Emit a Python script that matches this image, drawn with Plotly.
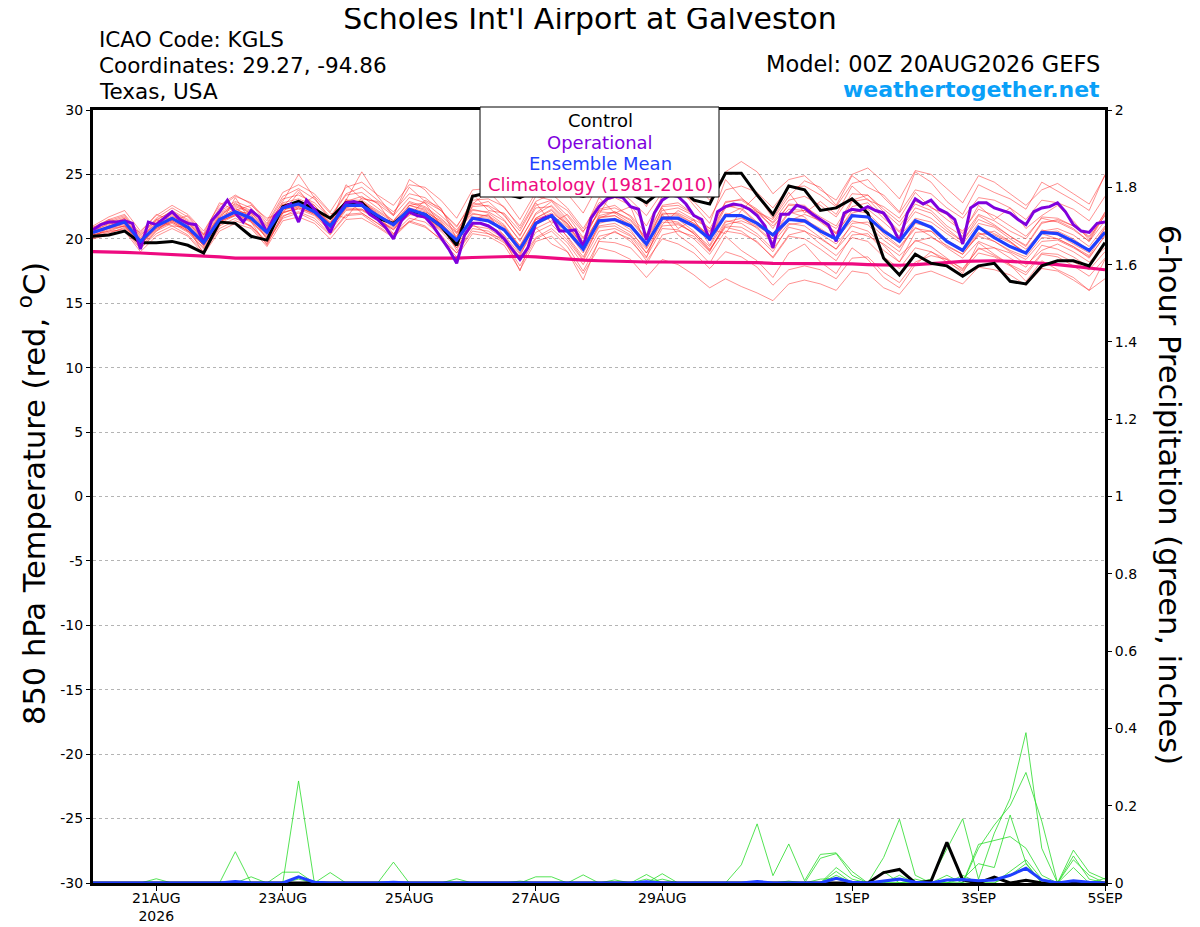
import pandas as pd
import plotly.graph_objects as go

# ---------------- data ----------------
times6 = pd.date_range("2026-08-20 00:00", periods=65, freq="6h")
times3 = pd.date_range("2026-08-20 00:00", periods=129, freq="3h")

tick_vals = ["2026-08-21", "2026-08-23", "2026-08-25", "2026-08-27",
             "2026-08-29", "2026-09-01", "2026-09-03", "2026-09-05"]
tick_text = ["21AUG<br>2026", "23AUG", "25AUG", "27AUG", "29AUG", "1SEP", "3SEP", "5SEP"]
temp_ticks = [-30, -25, -20, -15, -10, -5, 0, 5, 10, 15, 20, 25, 30]
temp_tick_text = ["-30", "-25", "-20", "-15", "-10", "-5", "0", "5", "10", "15", "20", "25", "30"]

control_t = [20.2, 20.3, 20.6, 19.7, 19.7, 19.8, 19.5, 18.9, 21.3, 21.2, 20.2, 19.9,
             22.5, 22.9, 22.3, 21.6, 22.8, 22.8, 21.6, 21.2, 22.2, 21.9, 21.0, 19.5,
             23.3, 23.6, 23.5, 23.2, 23.8, 24.0, 23.6, 23.3, 23.7, 24.0, 23.5, 22.8,
             23.8, 24.1, 23.0, 22.7, 25.1, 25.1, 23.4, 21.9, 24.1, 23.8, 22.2, 22.4,
             23.1, 22.0, 18.5, 17.2, 18.8, 18.1, 17.9, 17.1, 17.9, 18.1, 16.7, 16.5,
             17.9, 18.3, 18.3, 17.9, 19.7]

mean_t = [20.5, 20.9, 21.3, 19.8, 21.0, 21.6, 20.9, 19.7, 21.5, 22.1, 21.6, 20.5,
          22.4, 22.7, 22.1, 21.0, 22.6, 22.6, 21.8, 21.1, 22.3, 21.9, 21.0, 19.9,
          21.6, 21.4, 20.7, 19.2, 21.2, 21.8, 20.6, 19.2, 21.4, 21.5, 21.0, 19.6,
          21.6, 21.6, 21.0, 20.0, 21.8, 21.8, 21.2, 20.3, 21.5, 21.4, 20.6, 20.0,
          21.8, 21.7, 20.6, 19.8, 21.4, 20.9, 19.8, 19.1, 20.9, 20.1, 19.4, 18.9,
          20.5, 20.4, 19.8, 19.1, 20.5]

oper_t = [20.7, 21.1, 21.3, 21.3, 21.4, 21.2, 19.2, 21.3, 21.1, 21.6,
          22.1, 21.5, 21.2, 21.1, 19.7, 21.4, 22.1, 23.0, 22.0, 21.3,
          22.2, 21.7, 20.5, 21.8, 22.4, 22.7, 21.3, 23.0, 22.3, 21.5,
          20.5, 21.9, 22.8,
          22.9, 22.7, 21.9, 21.5, 20.9, 20.0, 21.4, 22.1, 21.8, 21.7,
          21.0, 20.1, 19.2, 18.1, 20.3, 21.2, 21.2, 21.0, 20.6, 20.0,
          19.2, 18.4, 19.3, 21.2, 21.6, 21.8, 20.6, 20.6, 20.7, 19.4,
          21.6, 22.5,
          23.1, 23.3, 23.2, 22.5, 22.3, 19.9, 22.0, 23.0, 23.4, 23.3,
          22.7, 21.8, 21.5, 19.9, 22.1, 22.5, 22.7, 22.6, 22.3, 21.8,
          21.0, 19.3, 21.9,
          21.9, 22.6, 22.4, 21.9, 21.5, 21.1, 19.8, 22.0, 22.3, 22.2,
          22.5, 22.2, 22.0, 21.1, 19.8, 22.0, 23.1, 22.7, 23.0, 22.3,
          22.0, 21.5, 19.6, 22.4, 22.8, 22.8, 22.4, 22.2, 22.0, 21.5,
          21.1, 22.1, 22.4, 22.5, 22.8, 22.1, 21.1, 20.6, 20.5, 21.2,
          21.3]

clim_t = [19.0, 19.0, 18.95, 18.9, 18.85, 18.8, 18.75, 18.7, 18.6, 18.5, 18.5, 18.45,
          18.45, 18.45, 18.45, 18.45, 18.45, 18.45, 18.5, 18.5, 18.5, 18.5, 18.5, 18.5,
          18.55, 18.6, 18.65, 18.65, 18.6, 18.5, 18.4, 18.35, 18.3, 18.25, 18.25, 18.2,
          18.2, 18.2, 18.2, 18.2, 18.15, 18.15, 18.15, 18.1, 18.1, 18.1, 18.1, 18.1,
          18.05, 18.0, 17.95, 17.95, 18.0, 18.05, 18.15, 18.25, 18.3, 18.3, 18.25, 18.2,
          18.1, 18.0, 17.85, 17.7, 17.6]

mem01 = [20.8,21.4,21.8,20.2, 21.6,22.4,21.7,20.3, 22.4,23.3,22.8,21.4, 23.6,24.2,23.5,22.1, 24.0,24.4,23.4,22.6, 24.2,24.0,23.0,21.6, 23.8,23.9,23.2,21.5, 23.6,24.4,23.5,22.0, 24.3,24.6,24.2,22.5, 24.8,25.0,24.3,23.0, 25.2,26.0,25.2,23.5, 24.6,24.9,23.8,23.0, 25.0,25.5,24.4,23.1, 25.3,25.0,23.9,22.8, 24.9,24.4,23.5,22.6, 23.8,24.3,23.5,22.7, 24.9]
mem02 = [20.2,20.5,20.8,19.3, 20.4,21.0,20.3,19.0, 20.8,21.4,21.0,19.7, 21.6,22.0,21.4,20.3, 21.8,21.9,21.0,20.2, 21.4,21.0,19.9,18.6, 20.4,20.2,19.5,17.6, 19.8,20.2,19.0,17.3, 19.3,19.0,18.4,17.0, 18.4,18.0,17.2,16.2, 16.9,16.3,15.8,15.2, 16.5,16.8,16.5,16.0, 17.5,17.3,16.2,15.7, 17.2,17.5,17.0,16.5, 17.8,17.6,17.2,16.4, 17.7,17.5,16.8,16.0, 16.9]
mem03 = [20.6,21.2,21.6,20.1, 21.2,21.9,21.2,20.0, 21.9,22.6,22.1,20.9, 22.9,25.0,23.2,21.5, 23.0,25.2,23.3,21.8, 24.6,23.8,22.3,20.5, 22.8,22.5,21.5,19.8, 22.0,22.9,21.5,19.7, 22.3,22.6,21.7,20.0, 22.6,22.8,21.9,20.5, 22.9,23.0,22.2,20.8, 22.7,22.6,21.5,20.4, 22.9,23.1,21.8,20.6, 22.4,22.0,20.8,19.8, 21.8,21.1,20.2,19.5, 21.3,21.4,20.8,19.8, 21.9]
mem04 = [20.3,20.7,21.0,19.5, 20.8,21.3,20.6,19.3, 21.2,21.8,21.3,20.1, 22.1,22.3,21.8,20.6, 22.2,22.3,21.5,20.7, 21.9,21.6,20.6,19.3, 21.0,20.8,20.0,18.4, 20.5,21.1,19.9,18.3, 20.6,20.8,20.2,18.6, 20.8,20.7,20.0,18.8, 20.6,20.4,19.8,18.5, 20.2,20.0,19.2,18.3, 20.3,20.4,19.1,18.2, 19.9,19.4,18.5,17.6, 19.3,18.7,18.0,17.4, 18.9,18.8,18.2,17.6, 19.0]
mem05 = [20.9,21.5,21.9,20.4, 21.5,22.1,21.4,20.2, 22.0,22.7,22.2,21.0, 22.8,23.1,22.6,21.3, 23.0,23.0,22.2,21.4, 22.8,22.4,21.5,20.4, 22.2,22.1,21.4,19.9, 21.9,22.6,21.4,20.0, 22.2,22.4,21.8,20.4, 22.5,22.6,21.9,20.8, 22.8,23.1,22.3,21.2, 22.6,22.5,21.7,21.0, 23.0,23.4,22.1,21.0, 22.7,22.2,21.0,20.2, 21.9,21.4,20.6,20.0, 21.7,21.6,21.0,20.2, 22.0]
mem06 = [20.0,20.3,20.6,19.0, 20.2,20.8,20.2,18.8, 20.6,21.2,20.8,19.4, 21.4,21.7,21.2,20.0, 21.5,21.6,20.9,20.1, 21.3,20.9,20.0,18.9, 20.6,20.4,19.7,18.3, 20.1,20.8,19.7,18.0, 20.2,20.5,20.0,18.3, 20.0,19.6,18.9,17.7, 19.0,18.6,17.8,16.4, 17.6,17.9,17.6,16.9, 18.5,18.6,17.4,16.6, 18.2,18.7,18.4,17.7, 19.2,19.3,18.9,18.0, 19.1,19.6,19.0,18.2, 19.3]
mem07 = [21.0,21.7,22.2,20.6, 21.8,22.6,21.9,20.6, 22.6,23.4,22.7,21.2, 23.3,23.9,23.1,21.7, 23.5,24.0,23.0,22.1, 23.5,23.2,22.2,20.9, 23.0,23.1,22.5,20.8, 22.9,23.5,22.4,20.8, 22.8,23.2,22.6,21.0, 23.3,23.6,22.9,21.6, 23.8,24.1,23.6,22.4, 24.0,24.1,23.4,22.5, 24.3,24.6,23.2,22.0, 23.8,23.5,22.4,21.6, 23.2,23.0,22.4,21.5, 23.0,22.8,22.3,21.4, 23.3]
mem08 = [20.4,20.8,21.2,19.7, 21.0,21.5,20.8,19.6, 21.4,22.0,21.5,20.3, 22.2,22.6,22.0,20.9, 22.5,22.5,21.7,20.9, 22.1,21.7,20.8,19.5, 21.3,21.1,20.3,18.8, 20.8,21.4,20.2,18.6, 20.9,21.0,20.3,18.9, 21.0,21.1,20.5,19.4, 21.4,21.2,20.4,19.2, 20.9,20.6,19.6,18.7, 20.1,19.8,18.6,17.7, 19.3,19.0,18.2,17.5, 18.9,18.6,17.9,17.2, 18.8,18.6,17.9,17.1, 18.5]
mem09 = [20.7,21.1,21.5,20.0, 21.3,22.0,21.3,20.1, 21.7,22.3,21.8,20.7, 22.6,22.9,22.3,21.2, 22.8,22.9,22.1,21.3, 22.6,22.2,21.2,20.1, 22.5,22.6,21.9,20.2, 22.6,23.0,21.8,20.1, 22.1,22.0,21.2,19.6, 21.5,21.3,20.4,19.1, 20.9,20.6,19.7,18.6, 20.3,20.6,20.0,19.2, 21.2,21.3,20.2,19.3, 20.8,20.6,19.8,19.0, 20.2,19.8,19.0,18.4, 19.8,19.9,19.3,18.6, 20.2]
mem10 = [20.1,20.4,20.9,19.4, 20.6,21.2,20.5,19.2, 21.0,21.6,21.0,19.8, 21.8,22.1,21.6,20.4, 21.9,22.0,21.2,20.4, 21.6,21.3,20.3,18.9, 20.8,20.6,19.8,17.9, 20.0,20.6,19.4,17.5, 19.8,19.7,19.3,18.0, 20.3,20.6,20.2,19.0, 21.3,21.6,21.0,20.2, 22.0,22.2,21.5,20.8, 22.5,22.8,21.6,20.5, 22.1,21.6,20.6,19.8, 21.5,21.0,20.2,19.4, 21.2,21.5,21.0,20.1, 21.8]
mem11 = [20.6,21.0,21.4,19.9, 21.1,21.8,21.1,19.9, 21.8,22.5,22.0,20.8, 22.6,22.9,22.3,21.1, 22.9,23.3,22.4,21.4, 22.9,22.5,21.6,20.5, 22.0,21.7,20.9,19.5, 21.6,22.2,21.0,19.4, 21.8,22.1,21.5,20.0, 22.2,22.4,21.8,20.6, 22.5,22.6,22.0,21.0, 22.3,22.2,21.3,20.4, 22.2,22.0,20.8,19.8, 21.4,20.9,19.9,19.0, 20.5,19.8,19.1,18.6, 20.1,20.0,19.4,18.5, 20.3]
mem12 = [20.3,20.6,21.0,19.6, 20.9,21.4,20.7,19.5, 21.3,21.9,21.4,20.2, 22.0,22.4,21.9,20.8, 22.3,22.2,21.5,20.8, 22.0,21.6,20.7,19.7, 21.5,21.4,20.6,19.1, 21.3,21.9,20.9,19.2, 21.6,21.8,21.1,19.6, 21.6,21.5,20.6,19.2, 21.0,20.9,20.2,19.0, 21.1,21.3,20.7,19.9, 21.9,21.6,20.4,19.4, 20.9,20.2,19.3,18.5, 19.8,19.3,18.5,17.8, 19.5,19.2,18.6,17.8, 19.7]
mem13 = [20.8,21.3,21.7,20.3, 21.4,22.2,21.5,20.3, 22.1,22.9,22.4,21.1, 23.1,23.4,22.8,21.6, 23.4,23.6,22.7,21.8, 23.2,22.8,21.8,20.7, 22.3,22.0,21.1,19.4, 21.6,22.3,21.1,19.5, 21.7,21.8,21.0,19.3, 21.9,22.0,21.4,20.1, 22.4,22.7,22.1,21.3, 23.0,23.3,22.6,21.7, 23.5,23.4,22.3,21.3, 22.9,22.5,21.5,20.6, 22.3,21.8,21.0,20.2, 21.6,21.3,20.7,19.8, 21.4]
mem14 = [20.5,20.9,21.1,19.6, 20.7,21.3,20.6,19.5, 21.3,21.9,21.4,20.1, 22.3,22.5,21.9,20.8, 22.4,22.3,21.5,20.7, 22.1,21.7,20.8,19.6, 21.7,21.6,20.7,18.9, 21.1,21.7,20.5,18.9, 21.0,21.2,20.5,19.2, 21.3,21.2,20.4,19.1, 21.1,21.4,20.9,19.8, 21.6,21.5,20.8,20.0, 21.4,21.1,19.9,19.0, 21.2,20.9,19.9,19.2, 20.9,20.4,19.8,18.8, 20.4,20.0,19.4,18.7, 20.6]
mem15 = [20.9,21.2,21.3,19.9, 21.5,21.0,20.9,18.8, 21.0,23.2,21.3,19.5, 22.0,22.5,23.3,22.0, 21.6,23.2,22.8,21.0, 21.8,23.0,22.4,20.0, 23.5,22.2,22.0,20.6, 22.8,21.2,21.9,20.5, 23.2,22.0,22.5,19.4, 22.4,20.8,21.5,20.8, 20.4,22.2,23.4,21.6, 23.6,22.0,22.9,21.9, 24.1,23.0,22.5,21.6, 23.6,22.4,21.9,20.4, 22.6,21.5,22.4,20.8, 21.8,22.6,21.4,19.9, 22.1]
mem16 = [20.1,20.9,21.6,19.4, 21.2,22.0,20.6,19.8, 21.7,22.8,21.9,19.9, 22.5,23.8,22.3,20.4, 23.1,22.0,21.2,20.3, 22.6,22.8,21.0,19.3, 21.1,20.4,20.0,17.5, 20.9,19.6,19.0,16.8, 19.9,20.6,19.8,18.5, 21.9,20.3,19.4,18.1, 20.2,19.1,18.3,17.0, 18.9,19.6,18.2,17.3, 19.3,18.4,17.0,16.2, 18.0,19.0,18.4,17.3, 19.7,18.8,18.0,16.7, 18.3,17.6,17.0,16.0, 18.4]
mem17 = [20.7,21.5,21.2,20.5, 21.9,21.4,21.8,20.4, 22.8,22.2,22.6,21.6, 22.0,23.6,22.6,21.1, 24.2,23.1,22.9,21.9, 24.0,22.9,22.2,21.0, 22.7,23.7,22.4,21.0, 23.3,23.0,22.2,20.6, 21.9,23.9,23.0,21.8, 23.6,24.1,22.6,21.2, 24.6,23.2,22.1,21.5, 23.3,24.5,24.0,22.6, 24.9,24.0,23.4,22.1, 25.2,24.4,22.9,21.9, 24.2,23.6,23.1,22.3, 24.4,23.7,23.0,22.2, 25.0]
mem18 = [20.3,20.6,20.7,19.2, 20.6,21.6,21.1,19.4, 21.4,21.8,20.9,19.6, 21.7,22.4,22.0,20.7, 22.4,22.9,21.9,20.4, 21.3,22.0,21.2,19.1, 21.5,21.9,20.2,18.6, 21.5,21.8,20.1,18.4, 21.2,21.5,20.7,18.9, 21.1,22.2,21.5,19.5, 21.8,22.4,21.3,20.4, 22.1,21.7,20.4,19.6, 21.0,20.6,19.5,18.2, 20.5,20.6,19.4,18.8, 20.3,20.6,19.8,18.9, 20.7,20.3,19.6,18.9, 20.9]
mem19 = [20.4,21.0,21.4,19.6, 21.0,21.7,21.3,19.9, 21.6,22.1,22.0,20.6, 22.7,22.7,22.1,20.9, 22.7,22.8,21.9,21.2, 22.4,22.1,21.4,20.2, 22.6,22.9,21.8,20.3, 22.4,22.5,21.2,19.8, 21.6,22.1,21.4,19.9, 22.0,21.9,21.2,20.2, 22.6,22.3,21.2,20.0, 21.4,21.9,21.4,20.5, 22.0,22.3,21.3,20.2, 21.6,21.3,20.4,19.6, 21.2,20.9,20.0,19.2, 20.6,20.8,20.3,19.4, 21.0]
mem20 = [20.6,20.8,21.0,19.8, 20.8,21.4,20.8,19.6, 21.4,22.4,21.6,20.4, 22.4,23.0,22.4,21.2, 22.6,22.9,22.0,21.0, 22.6,22.3,21.3,19.8, 21.9,21.8,21.0,19.3, 21.5,22.0,21.2,19.4, 21.4,21.6,21.0,19.6, 21.7,21.8,21.2,20.3, 22.0,21.7,20.8,19.7, 21.2,21.0,20.1,19.2, 20.6,20.2,19.6,18.7, 19.8,20.1,19.5,18.8, 20.4,20.3,19.7,18.9, 20.5,20.6,20.0,19.1, 20.8]
members_t = [mem01, mem02, mem03, mem04, mem05, mem06, mem07, mem08, mem09, mem10,
             mem11, mem12, mem13, mem14, mem15, mem16, mem17, mem18, mem19, mem20]

# 6-hour precipitation (inches)
pcp_a = [0,0,0,0,0,0,0,0,0,0.081, 0,0,0,0.264,0,0,0,0,0,0, 0,0,0,0,0,0,0,0,0,0,
         0,0,0,0,0,0,0,0,0,0, 0,0.047,0.153,0.019,0.101,0.006,0.074,0.078,0.03,0,
         0,0,0,0,0,0,0,0,0.02,0.05, 0,0,0,0,0]
pcp_b = [0,0,0,0,0.011,0,0,0,0,0, 0.016,0,0.028,0.028,0,0.027,0,0,0,0, 0,0,0,0,0,0,0,0,0,0,
         0,0,0,0,0,0.022,0,0,0,0, 0,0,0,0,0,0,0.064,0.076,0.02,0,
         0.066,0.165,0.02,0,0,0,0.09,0.15,0.2,0.286, 0.16,0,0.06,0.02,0]
pcp_c = [0,0,0,0,0,0,0,0,0,0, 0,0,0,0,0,0,0,0,0,0.054, 0,0,0,0.011,0,0,0,0,0.016,0.016,
         0,0.021,0,0,0,0,0.024,0,0,0, 0,0,0,0,0,0,0,0.03,0,0,
         0,0,0,0.01,0.09,0.166,0.01,0.129,0.219,0.389, 0.09,0,0.085,0.028,0.01]
pcp_d = [0,0,0,0,0,0,0,0,0,0, 0,0,0,0.01,0,0,0,0,0,0, 0,0,0,0,0,0,0,0,0,0,
         0,0,0,0,0,0.01,0,0,0,0, 0,0,0,0,0,0,0,0.02,0,0,
         0.03,0,0,0,0,0.01,0.05,0.04,0.176,0.052, 0,0,0.07,0.01,0]
pcp_e = [0,0,0,0,0,0,0,0,0,0, 0,0,0,0,0.005,0,0,0,0,0, 0,0,0,0,0,0,0,0,0,0,
         0,0,0,0,0,0,0.01,0,0,0, 0,0,0,0,0.005,0,0,0.04,0.01,0,
         0,0,0.01,0,0.02,0,0.1,0.11,0.12,0.09, 0.02,0,0.04,0,0.012]
pcp_f = [0,0,0,0,0,0,0,0,0,0, 0,0,0,0,0,0,0,0,0,0, 0,0,0,0,0,0,0,0.005,0,0,
         0,0,0,0.008,0,0,0,0,0,0, 0,0,0,0,0,0,0.01,0.012,0,0,
         0,0.02,0,0,0,0.02,0,0,0.03,0.06, 0.01,0,0,0,0]
members_p = [pcp_a, pcp_b, pcp_c, pcp_d, pcp_e, pcp_f]

control_p = [0,0,0,0,0,0,0,0,0,0, 0,0,0,0,0,0,0,0,0,0, 0,0,0,0,0,0,0,0,0,0,
             0,0,0,0,0,0,0,0,0,0, 0,0,0,0,0,0,0,0,0,0,
             0.027,0.035,0,0.005,0.105,0.008,0,0.015,0,0.007, 0,0,0,0,0]
mean_p = [0,0,0,0,0,0,0,0,0,0.004, 0,0,0,0.016,0.002,0,0,0,0,0.002, 0,0,0,0,0,0,0,0,0,0,
          0,0,0,0,0,0.003,0,0,0,0, 0,0,0.004,0,0,0,0,0.012,0.002,0,
          0.005,0.01,0.002,0,0.008,0.009,0.006,0.008,0.02,0.038, 0.008,0,0.006,0.002,0]

# ---------------- figure ----------------
FONT = "DejaVu Sans"
OFF = 8                      # page body margin of the browser
L, R, T, B = 93, 1105, 110, 883   # plot box in page pixels
W, H = 1200 - OFF, 927 - OFF


def px(x):
    return (x - L) / (R - L)


def py(y):
    return (B - y) / (B - T)


fig = go.Figure()

for m in members_t:
    fig.add_trace(go.Scatter(x=times6, y=m, mode="lines", yaxis="y",
                             line=dict(color="rgba(255,30,30,0.62)", width=0.8),
                             hoverinfo="skip"))

fig.add_trace(go.Scatter(x=times6, y=clim_t, mode="lines",
                         line=dict(color="#ee0a80", width=3.2)))
fig.add_trace(go.Scatter(x=times6, y=control_t, mode="lines",
                         line=dict(color="black", width=3)))
fig.add_trace(go.Scatter(x=times3, y=oper_t, mode="lines",
                         line=dict(color="#8000dd", width=3)))
fig.add_trace(go.Scatter(x=times6, y=mean_t, mode="lines",
                         line=dict(color="#1f3fff", width=3.2)))

for p in members_p:
    fig.add_trace(go.Scatter(x=times6, y=p, mode="lines", yaxis="y2",
                             line=dict(color="rgb(40,220,40)", width=0.8)))
fig.add_trace(go.Scatter(x=times6, y=control_p, mode="lines", yaxis="y2",
                         line=dict(color="black", width=3)))
fig.add_trace(go.Scatter(x=times6, y=mean_p, mode="lines", yaxis="y2",
                         line=dict(color="#1f3fff", width=3)))

axis_font = dict(family=FONT, size=14, color="black")

fig.update_layout(
    width=W, height=H,
    margin=dict(l=L - OFF, r=W - (R - OFF), t=T - OFF, b=H - (B - OFF), pad=0),
    paper_bgcolor="white", plot_bgcolor="white",
    showlegend=False,
    font=dict(family=FONT, color="black"),
    title=dict(text="Scholes Int'l Airport at Galveston", x=(590 - OFF) / W, xanchor="center",
               y=1.0, yanchor="top", xref="container", yref="container",
               font=dict(family=FONT, size=30, color="black")),
    xaxis=dict(type="date", range=["2026-08-20 00:00", "2026-09-05 00:00"],
               tickmode="array", tickvals=tick_vals, ticktext=tick_text,
               showgrid=False, zeroline=False, automargin=False,
               showline=True, linecolor="black", linewidth=3, mirror=True,
               ticks="outside", ticklen=5, tickwidth=1, tickcolor="black",
               ticklabelstandoff=-5,
               tickfont=axis_font, tickangle=0),
    yaxis=dict(range=[-30, 30], tickmode="array", tickvals=temp_ticks, ticktext=temp_tick_text,
               showgrid=True, gridcolor="#b4b4b4", gridwidth=1, griddash="dot",
               zeroline=False, showline=True, linecolor="black", linewidth=3,
               automargin=False,
               ticks="outside", ticklen=4, tickwidth=1, tickcolor="black",
               tickfont=axis_font),
    yaxis2=dict(range=[0, 2], tickmode="linear", tick0=0, dtick=0.2,
                overlaying="y", side="right", showgrid=False, zeroline=False,
                showline=True, linecolor="black", linewidth=3, automargin=False,
                ticks="outside", ticklen=4, tickwidth=1, tickcolor="black",
                tickfont=axis_font),
)

# legend box
fig.add_shape(type="rect", xref="paper", yref="paper",
              x0=px(480), x1=px(719), y0=py(197), y1=py(107),
              line=dict(color="black", width=1), fillcolor="white", layer="above")
legend_items = [("Control", "black", 121), ("Operational", "#8000dd", 142),
                ("Ensemble Mean", "#1f3fff", 163), ("Climatology (1981-2010)", "#ee0a80", 185)]
for txt, col, yy in legend_items:
    fig.add_annotation(text=txt, xref="paper", yref="paper", x=px(600), y=py(yy),
                       xanchor="center", yanchor="middle", showarrow=False,
                       font=dict(family=FONT, size=18, color=col))

# header texts
for txt, yy in [("ICAO Code: KGLS", 40), ("Coordinates: 29.27, -94.86", 66), ("Texas, USA", 92)]:
    fig.add_annotation(text=txt, xref="paper", yref="paper", x=px(97), y=py(yy),
                       xanchor="left", yanchor="middle", showarrow=False,
                       font=dict(family=FONT, size=21.5, color="black"))
fig.add_annotation(text="Model: 00Z 20AUG2026 GEFS", xref="paper", yref="paper",
                   x=px(1102), y=py(64), xanchor="right", yanchor="middle", showarrow=False,
                   font=dict(family=FONT, size=22.5, color="black"))
fig.add_annotation(text="<b>weathertogether.net</b>", xref="paper", yref="paper",
                   x=px(1102), y=py(89), xanchor="right", yanchor="middle", showarrow=False,
                   font=dict(family=FONT, size=22, color="#0aa0f8"))

# axis titles
fig.add_annotation(text="850 hPa Temperature (red, <sup>o</sup>C)", xref="paper", yref="paper",
                   x=px(32), y=py(494), xanchor="center", yanchor="middle", textangle=-90,
                   showarrow=False, font=dict(family=FONT, size=30.5, color="black"))
fig.add_annotation(text="6-hour Precipitation (green, inches)", xref="paper", yref="paper",
                   x=px(1170), y=py(495), xanchor="center", yanchor="middle", textangle=90,
                   showarrow=False, font=dict(family=FONT, size=30.5, color="black"))

fig.write_html("out.html")
